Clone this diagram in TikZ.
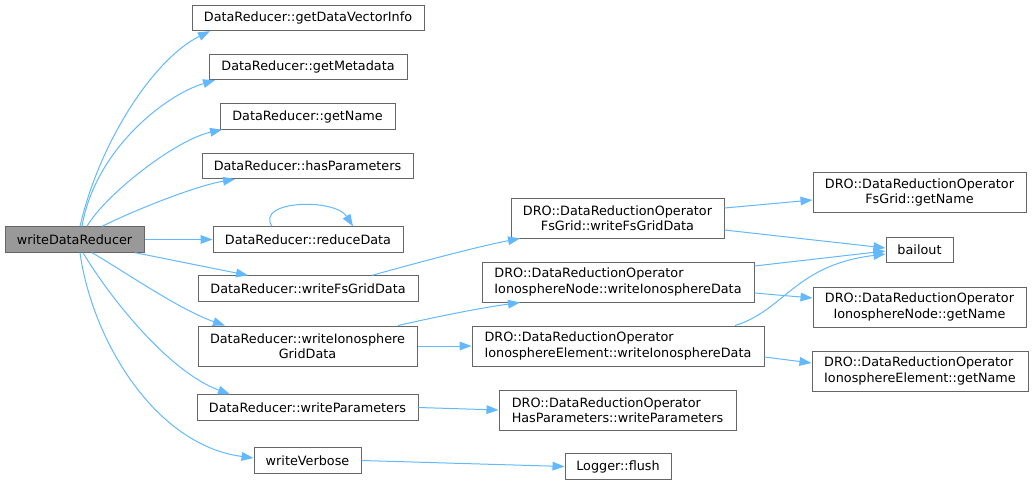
\documentclass[tikz,border=0pt]{standalone}
\usepackage{fontspec}
\setmainfont{DejaVu Sans}
\usetikzlibrary{arrows.meta}
\usetikzlibrary{calc}
\definecolor{callblue}{RGB}{99,184,255}
\definecolor{boxgrey}{RGB}{102,102,102}
\definecolor{rootgrey}{RGB}{153,153,153}

\begin{document}
\begin{tikzpicture}[x=0.75pt,y=0.75pt,yscale=-1,xscale=1,
  fn/.style={draw=boxgrey, line width=0.75pt, fill=white, inner sep=2pt, align=center, minimum height=19pt, font=\fontsize{9.6}{11.4}\selectfont},
  fnroot/.style={fn, fill=rootgrey},
  fntwo/.style={fn, minimum height=30pt},
  call/.style={draw=callblue, line width=0.75pt, -{Triangle[length=9pt,width=6.5pt]}}]
\useasboundingbox (0,0) rectangle (1033,485);

% Text Node
\node[fnroot, minimum width=104.25pt] (wdr) at (74.5,239.5) {writeDataReducer};
% Text Node
\node[fn, minimum width=174pt] (gdvi) at (308,18) {DataReducer::getDataVectorInfo};
% Text Node
\node[fn, minimum width=148.5pt] (gmd) at (308,67) {DataReducer::getMetadata};
% Text Node
\node[fn, minimum width=131.25pt] (gnm) at (307.5,116.5) {DataReducer::getName};
% Text Node
\node[fn, minimum width=158.25pt] (hpar) at (307.5,166) {DataReducer::hasParameters};
% Text Node
\node[fn, minimum width=142.5pt] (rdd) at (308,239.5) {DataReducer::reduceData};
% Text Node
\node[fn, minimum width=165pt] (wfsg) at (308,288.5) {DataReducer::writeFsGridData};
% Text Node
\node[fntwo, minimum width=164.25pt] (wion) at (307.5,346) {DataReducer::writeIonosphere\\GridData};
% Text Node
\node[fn, minimum width=165.75pt] (wpar) at (307.5,407.5) {DataReducer::writeParameters};
% Text Node
\node[fn, minimum width=80.25pt] (wvrb) at (307.5,460.5) {writeVerbose};

% Text Node
\node[fntwo, minimum width=159.75pt] (drofs) at (617.5,218) {DRO::DataReductionOperator\\FsGrid::writeFsGridData};
% Text Node
\node[fntwo, minimum width=204pt, align=left] (droin) at (618,282) {DRO::DataReductionOperator\\IonosphereNode::writeIonosphereData};
% Text Node
\node[fntwo, minimum width=219pt, align=left] (droie) at (618,346) {DRO::DataReductionOperator\\IonosphereElement::writeIonosphereData};
% Text Node
\node[fntwo, minimum width=177.75pt, align=left] (drohp) at (617.5,410) {DRO::DataReductionOperator\\HasParameters::writeParameters};
% Text Node
\node[fn, minimum width=79.5pt] (lgfl) at (618,466.5) {Logger::flush};

% Text Node
\node[fntwo, minimum width=159.75pt] (fsgn) at (919.5,192.5) {DRO::DataReductionOperator\\FsGrid::getName};
% Text Node
\node[fn, minimum width=50.25pt] (bail) at (919.5,250) {bailout};
% Text Node
\node[fntwo, minimum width=159.75pt] (ingn) at (919.5,307) {DRO::DataReductionOperator\\IonosphereNode::getName};
% Text Node
\node[fntwo, minimum width=162pt, align=left] (iegn) at (920,371) {DRO::DataReductionOperator\\IonosphereElement::getName};

%Curve Lines
\draw[call] ($(wdr.north)+(5.5,0)$) .. controls (100,140) and (155,58) .. ($(gdvi.south)+(-98,0)$);
%Curve Lines
\draw[call] ($(wdr.north)+(7.5,0)$) .. controls (95,150) and (165,95) .. ($(gmd.south)+(-93,0)$);
%Curve Lines
\draw[call] ($(wdr.north)+(12.5,0)$) .. controls (105,195) and (175,140) .. ($(gnm.south)+(-85.5,0)$);
%Curve Lines
\draw[call] ($(wdr.north)+(27.5,0)$) .. controls (135,210) and (195,186) .. ($(hpar.south)+(-72.5,0)$);
%Straight Lines
\draw[call] (wdr.east) -- (rdd.west);
%Curve Lines
\draw[call] ($(rdd.north)+(-36,0)$) .. controls (255,200) and (335,198) .. ($(rdd.north)+(45,0)$);
%Straight Lines
\draw[call] ($(wdr.south)+(60.5,0)$) -- ($(wfsg.north)+(-60,0)$);
%Curve Lines
\draw[call] ($(wdr.south)+(17.5,0)$) .. controls (125,272) and (180,310) .. ($(wion.north)+(-82.5,0)$);
%Curve Lines
\draw[call] ($(wdr.south)+(8.5,0)$) .. controls (105,290) and (165,370) .. ($(wpar.north)+(-77.5,0)$);
%Curve Lines
\draw[call] ($(wdr.south)+(5.5,0)$) .. controls (92,340) and (155,445) .. ($(wvrb.west)+(0,-2.5)$);

%Curve Lines
\draw[call] ($(wfsg.north)+(64,0)$) .. controls (420,262) and (480,246) .. ($(drofs.south)+(-97.5,0)$);
%Curve Lines
\draw[call] ($(wion.north)+(90.5,0)$) .. controls (440,316) and (480,308) .. ($(droin.south)+(-98,0)$);
%Straight Lines
\draw[call] (wion.east) -- (droie.west);
%Straight Lines
\draw[call] (wpar.east) -- (drohp.west);
%Straight Lines
\draw[call] (wvrb.east) -- (lgfl.west);

%Straight Lines
\draw[call] ($(drofs.east)+(0,-10)$) -- ($(fsgn.west)+(0,7.5)$);
%Straight Lines
\draw[call] ($(drofs.east)+(0,12)$) -- ($(bail.west)+(0,-2)$);
%Straight Lines
\draw[call] ($(droin.east)+(0,-16)$) -- ($(bail.west)+(0,1)$);
%Straight Lines
\draw[call] ($(droin.east)+(0,11)$) -- ($(ingn.west)+(0,-9)$);
%Curve Lines
\draw[call] ($(droie.north)+(117,0)$) .. controls (785,310) and (795,265) .. ($(bail.west)+(0,4)$);
%Straight Lines
\draw[call] ($(droie.east)+(0,11)$) -- ($(iegn.west)+(0,-8)$);

\end{tikzpicture}
\end{document}
